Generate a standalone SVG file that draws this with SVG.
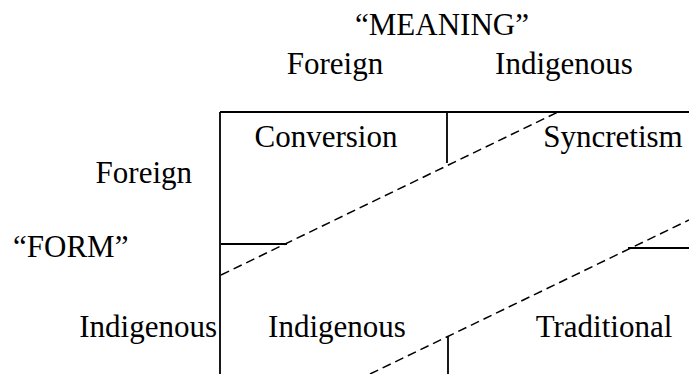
<svg xmlns="http://www.w3.org/2000/svg" width="689" height="374" viewBox="0 0 689 374">
<style>
text{font-family:"Liberation Serif","Times New Roman",serif;font-size:31px;fill:#000}
.m{text-anchor:middle}
.e{text-anchor:end}
.s{stroke:#000;stroke-width:1.8;fill:none}
.d{stroke:#000;stroke-width:1.5;fill:none;stroke-dasharray:9 5}
</style>
<rect width="689" height="374" fill="#fff"/>
<g id="headers">
<text id="meaning" class="m" x="442" y="35">“MEANING”</text>
<text id="col-foreign" class="m" x="335" y="74">Foreign</text>
<text id="col-indigenous" class="m" x="564" y="74">Indigenous</text>
<text id="row-foreign" class="e" x="192" y="183">Foreign</text>
<text id="form" x="13" y="257">“FORM”</text>
<text id="row-indigenous" class="e" x="217" y="337">Indigenous</text>
</g>
<g id="connectors">
<path class="s" d="M220 112H689M220 112V374M447 112V163M221 244H287M628 248H689M448 337V374"/>
<path class="d" d="M221 275L558 112"/>
<path class="d" d="M370 374L689 220"/>
</g>
<g id="conversion"><text class="m" x="326" y="147">Conversion</text></g>
<g id="syncretism"><text class="m" x="613" y="147">Syncretism</text></g>
<g id="indigenous"><text class="m" x="337" y="337">Indigenous</text></g>
<g id="traditional"><text class="m" x="604" y="337">Traditional</text></g>
</svg>
